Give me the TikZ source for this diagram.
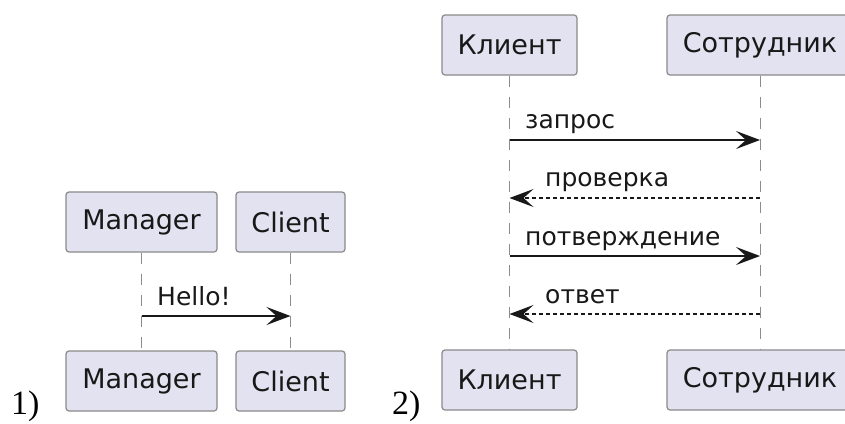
\documentclass[tikz,border=0pt]{standalone}
\usepackage{fontspec}
\setmainfont{Liberation Serif}
\newfontfamily\dvs{DejaVu Sans}
\usetikzlibrary{arrows.meta}
\definecolor{boxfill}{HTML}{E2E2F0}
\definecolor{boxline}{HTML}{8A8A8A}
\definecolor{lifeline}{HTML}{8C8C8C}
\definecolor{ink}{HTML}{181818}
\tikzset{
  part/.style={draw=boxline, line width=1.2pt, fill=boxfill, rounded corners=3pt,
    minimum height=60pt, inner sep=0pt, text=ink,
    font=\dvs\fontsize{27}{30}\selectfont},
  life/.style={draw=lifeline, line width=1pt, dash pattern=on 11pt off 10pt},
  msg/.style={draw=ink, line width=2pt, -{Stealth[length=24pt, width=18pt, inset=10pt]}},
  ret/.style={msg, line width=1.5pt, dash pattern=on 4pt off 3pt},
  lbl/.style={anchor=base west, inner sep=0pt, text=ink,
    font=\dvs\fontsize{25}{28}\selectfont},
  num/.style={anchor=base west, inner sep=0pt, font=\fontsize{34}{38}\selectfont}
}
\begin{document}
\begin{tikzpicture}[x=1pt,y=-1pt]
\clip (0,0) rectangle (845,423);
\fill[white] (0,0) rectangle (845,423);
% diagram 1
\node[part, minimum width=151pt] (m1) at (141.5,222) {Manager};
\node[part, minimum width=109pt] (c1) at (290.5,222) {Client};
\node[part, minimum width=151pt] (m2) at (141.5,381) {Manager};
\node[part, minimum width=109pt] (c2) at (290.5,381) {Client};
\draw[life] (m1.south) -- (m2.north);
\draw[life] (c1.south) -- (c2.north);
\draw[msg] (m1.south |- 0,316) -- (c1.south |- 0,316);
\node[lbl] (h) at (157,305) {Hello!};
\node[num] (n1) at (11,414) {1)};
% diagram 2
\node[part, minimum width=135pt] (k1) at (509.5,45) {Клиент};
\node[part, minimum width=186pt] (s1) at (760,45) {Сотрудник};
\node[part, minimum width=135pt] (k2) at (509.5,380) {Клиент};
\node[part, minimum width=186pt] (s2) at (760,380) {Сотрудник};
\draw[life] (k1.south) -- (k2.north);
\draw[life] (s1.south) -- (s2.north);
\draw[msg] (k1.south |- 0,140) -- (s1.south |- 0,140);
\node[lbl] (q1) at (525,128) {запрос};
\draw[ret] (s1.south |- 0,198) -- (k1.south |- 0,198);
\node[lbl] (q2) at (545,186) {проверка};
\draw[msg] (k1.south |- 0,256) -- (s1.south |- 0,256);
\node[lbl] (q3) at (525,245) {потверждение};
\draw[ret] (s1.south |- 0,314) -- (k1.south |- 0,314);
\node[lbl] (q4) at (545,303) {ответ};
\node[num] (n2) at (392,414) {2)};
\end{tikzpicture}
\end{document}
